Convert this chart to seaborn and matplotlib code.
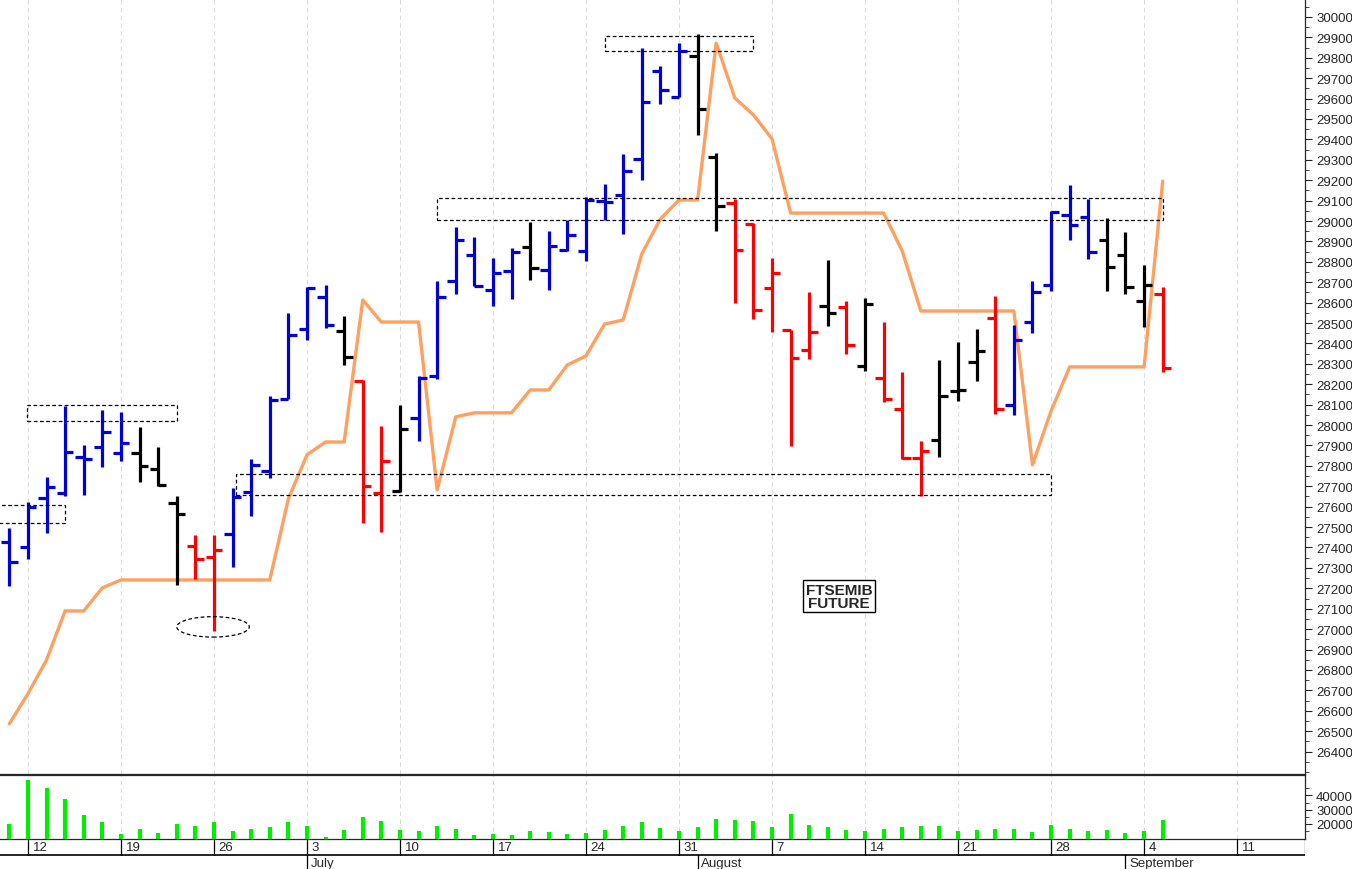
import matplotlib
matplotlib.use("Agg")
import matplotlib.pyplot as plt
from matplotlib.patches import Rectangle, Ellipse
from matplotlib.ticker import MultipleLocator, FixedLocator
import numpy as np
import pandas as pd
import seaborn as sns

sns.set_style("white")
plt.rcParams['font.family'] = ['Liberation Sans', 'DejaVu Sans']

# trading-day index 0 = 9 June
highs = [27496,27623,27746,28094,27903,28074,28064,27991,27893,27653,27462,27462,27692,27834,28143,28549,
         28677,28687,28535,28221,27996,28099,28241,28706,28971,28922,28819,28868,28995,28951,29005,29118,
         29182,29329,29848,29760,29872,29917,29333,29108,28990,28819,28466,28652,28809,28608,28623,28505,
         28260,27922,28319,28407,28471,28633,28491,28706,29049,29177,29108,29015,28946,28785,28677]
lows = [27212,27344,27471,27653,27658,27795,27824,27721,27702,27217,27246,26991,27305,27555,27741,28128,
        28417,28476,28295,27520,27476,27672,27922,28226,28643,28682,28584,28618,28711,28662,28853,28804,
        29005,28937,29201,29574,29608,29422,28951,28598,28520,28456,27898,28324,28486,28348,28265,28113,
        27834,27653,27844,28118,28216,28055,28050,28451,28657,28907,28814,28657,28642,28481,28260]
opens = [27427,27403,27643,27667,27844,27893,27863,27863,27785,27618,27408,27354,27467,27672,27775,28128,
         28471,28628,28461,28216,27667,27677,28035,28241,28706,28834,28663,28755,28873,28760,28858,28853,
         29098,29128,29304,29735,29608,29809,29314,29088,28986,28672,28466,28368,28584,28579,28290,28231,
         28079,27839,27927,28167,28309,28525,28099,28505,28687,29030,29020,28907,28834,28608,28643]
closes = [27329,27599,27697,27868,27834,27966,27912,27800,27707,27565,27344,27388,27648,27805,28123,28442,
          28672,28491,28334,27702,27824,27981,28231,28628,28907,28682,28745,28848,28770,28878,28932,29103,
          29093,29245,29583,29642,29833,29549,29074,28858,28564,28745,28329,28456,28549,28393,28594,28128,
          27839,27873,28143,28172,28363,28079,28417,28652,29044,28981,28848,28775,28677,28687,28280]
bar_colors = (["blue"]*7 + ["black"]*3 + ["red"]*2 + ["blue"]*6 + ["black"] + ["red"]*2 + ["black"] +
              ["blue"]*6 + ["black"] + ["blue"]*8 + ["black"]*2 + ["red"]*5 + ["black"] + ["red"] +
              ["black"] + ["red"]*3 + ["black"]*3 + ["red"] + ["blue"]*5 + ["black"]*3 + ["red"])
trend = [26536,26683,26849,27089,27089,27202,27241,27241,27241,27241,27241,27241,27241,27241,27241,27638,
         27854,27917,27917,28613,28505,28505,28505,27682,28040,28060,28060,28060,28172,28172,28295,28339,
         28495,28515,28839,29010,29103,29103,29872,29603,29520,29402,29039,29039,29039,29039,29039,29039,
         28853,28559,28559,28559,28559,28559,28559,27805,28069,28285,28285,28285,28285,28285,29196]
volume = [20000,50800,45200,37500,26300,21400,13000,16500,13700,20000,18600,21400,15100,16500,17900,21400,
          18600,10900,15800,24900,22100,15800,15100,18600,16500,12300,13000,12300,15100,14400,13000,13700,
          15800,18600,21400,17200,15100,17900,23500,22800,22100,17900,27000,19300,17900,15800,15100,16500,
          17900,18600,18600,15100,15800,16500,16500,14400,19300,16500,15100,15800,13700,15100,22800]
week_idx = [1,6,11,16,21,26,31,36,41,46,51,56,61,66]
week_labels = ["12","19","26","3","10","17","24","31","7","14","21","28","4","11"]
month_idx = [16,37,60]
month_labels = ["July","August","September"]

cmap = {"blue": "#0000d8", "red": "#ff0000", "black": "#000000"}
n = len(highs)
x = np.arange(n)
df = pd.DataFrame({"x": x, "trend": trend, "volume": volume})

fig = plt.figure(figsize=(13.52, 8.70), dpi=100)
XL = (-0.5, 69.65)
ax = fig.add_axes([0, 1-775/870, 1305/1352, 775/870])
axv = fig.add_axes([0, 1-840/870, 1305/1352, 64/870])
axd = fig.add_axes([0, 0, 1305/1352, 30/870])

for a in (ax, axv):
    a.set_xlim(*XL)
    for w in week_idx:
        a.axvline(w, color="#dddddd", lw=0.8, ls=(0, (4, 3)), zorder=0)

sns.lineplot(data=df, x="x", y="trend", ax=ax, color="#ffa060", lw=2.4, zorder=2)
tw = 0.45
for i in range(n):
    c = cmap[bar_colors[i]]
    ax.vlines(i, lows[i], highs[i], color=c, lw=2.3, zorder=3)
    ax.hlines(opens[i], i-tw, i, color=c, lw=2.3, zorder=3)
    ax.hlines(closes[i], i, i+tw, color=c, lw=2.3, zorder=3)

boxes = [(-0.6, 3.0, 27520, 27610), (0.95, 9.0, 28020, 28100), (12.2, 56.0, 27658, 27760),
         (23.0, 62.0, 29005, 29113), (32.0, 40.0, 29833, 29907)]
for x0, x1, y0, y1 in boxes:
    ax.add_patch(Rectangle((x0, y0), x1-x0, y1-y0, fill=False, ls=(0, (3, 2)), lw=0.9, ec="black", zorder=4))
ax.add_patch(Ellipse((10.95, 27011), 3.9, 100, fill=False, ls=(0, (3, 2)), lw=0.9, ec="black", zorder=4))
ax.text(44.6, 27160, "FTSEMIB\nFUTURE", ha="center", va="center", fontsize=11, fontweight="bold",
        linespacing=0.95, bbox=dict(boxstyle="square,pad=0.15", fc="white", ec="black", lw=1), zorder=5)

ax.set_ylim(26290, 30088)
ax.yaxis.tick_right()
ax.yaxis.set_major_locator(MultipleLocator(100))
ax.yaxis.set_minor_locator(MultipleLocator(50))
ax.set_yticks(np.arange(26400, 30001, 100))
ax.tick_params(axis="y", which="major", length=5, labelsize=9.5, pad=3)
ax.tick_params(axis="y", which="minor", length=3)
ax.set_xticks([])
ax.set_xlabel(""); ax.set_ylabel("")
for s in ("top", "left"):
    ax.spines[s].set_visible(False)
ax.spines["right"].set_linewidth(0.9)
ax.spines["bottom"].set_linewidth(0.9)

axv.vlines(x, 9500, volume, color="#00ee00", lw=3, zorder=3)
axv.set_ylim(9500, 54300)
axv.yaxis.tick_right()
axv.set_yticks([20000, 30000, 40000])
axv.yaxis.set_minor_locator(FixedLocator([15000, 25000, 35000, 45000]))
axv.tick_params(axis="y", which="major", length=5, labelsize=9.5, pad=3)
axv.tick_params(axis="y", which="minor", length=3)
axv.set_xticks([])
axv.spines["left"].set_visible(False)
for s in ("top", "bottom", "right"):
    axv.spines[s].set_linewidth(0.9)

axd.set_xlim(*XL); axd.set_ylim(0, 1)
axd.axis("off")
axd.axhline(0.47, color="black", lw=1.2)
axd.plot([XL[1], XL[1]], [0.47, 1], color="black", lw=0.9)
for w, lab in zip(week_idx, week_labels):
    axd.plot([w, w], [0.47, 1], color="black", lw=0.9)
    axd.text(w+0.25, 0.73, lab, ha="left", va="center", fontsize=9.5)
for m, lab in zip(month_idx, month_labels):
    axd.plot([m, m], [0, 0.47], color="black", lw=0.9)
    axd.text(m+0.2, 0.2, lab, ha="left", va="center", fontsize=9.5)

fig.savefig("out.png", dpi=100)
